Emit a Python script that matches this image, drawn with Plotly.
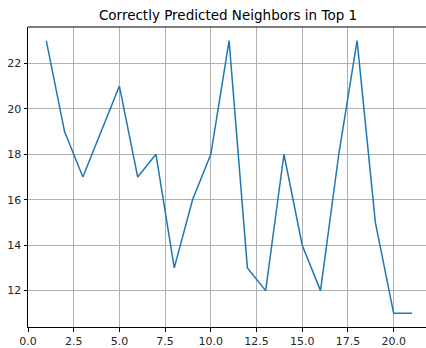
import plotly.graph_objects as go

# Number of neighbours (k) and how many were predicted correctly in the top 1
k_values = list(range(1, 22))
correct_counts = [23, 19, 17, 19, 21, 17, 18, 13, 16, 18, 23, 13, 12, 18, 14, 12, 18, 23, 15, 11, 11]

title_text = "Correctly Predicted Neighbors in Top 1"
x_ticks = [0, 2.5, 5, 7.5, 10, 12.5, 15, 17.5, 20]
y_ticks = [12, 14, 16, 18, 20, 22]

font_family = "DejaVu Sans"

fig = go.Figure(
    go.Scatter(
        x=k_values,
        y=correct_counts,
        mode="lines",
        line=dict(color="#1f77b4", width=1.5),
        showlegend=False,
    )
)

axis_common = dict(
    showgrid=True,
    gridcolor="#b0b0b0",
    gridwidth=1,
    zeroline=False,
    showline=True,
    linecolor="black",
    linewidth=1,
    ticks="outside",
    ticklen=3.5,
    tickwidth=0.8,
    tickcolor="black",
    tickfont=dict(family=font_family, size=11, color="#262626"),
    mirror=False,
)

fig.update_xaxes(
    range=[0, 21.77],
    tickvals=x_ticks,
    ticktext=[f"{v:.1f}" for v in x_ticks],
    **axis_common,
)
fig.update_yaxes(
    range=[10.4, 23.6],
    tickvals=y_ticks,
    ticktext=[str(v) for v in y_ticks],
    **axis_common,
)

# top spine
fig.add_shape(
    type="line", xref="paper", yref="paper",
    x0=0, x1=1, y0=1, y1=1,
    line=dict(color="black", width=1),
)

fig.update_layout(
    width=426,
    height=348,
    margin=dict(l=28, r=0, t=27, b=21),
    paper_bgcolor="white",
    plot_bgcolor="white",
    title=dict(
        text=title_text,
        x=228 / 426,
        xanchor="center",
        y=1 - 15 / 348,
        yanchor="middle",
        font=dict(family=font_family, size=13.5, color="black"),
    ),
)

fig.write_html("out.html")
